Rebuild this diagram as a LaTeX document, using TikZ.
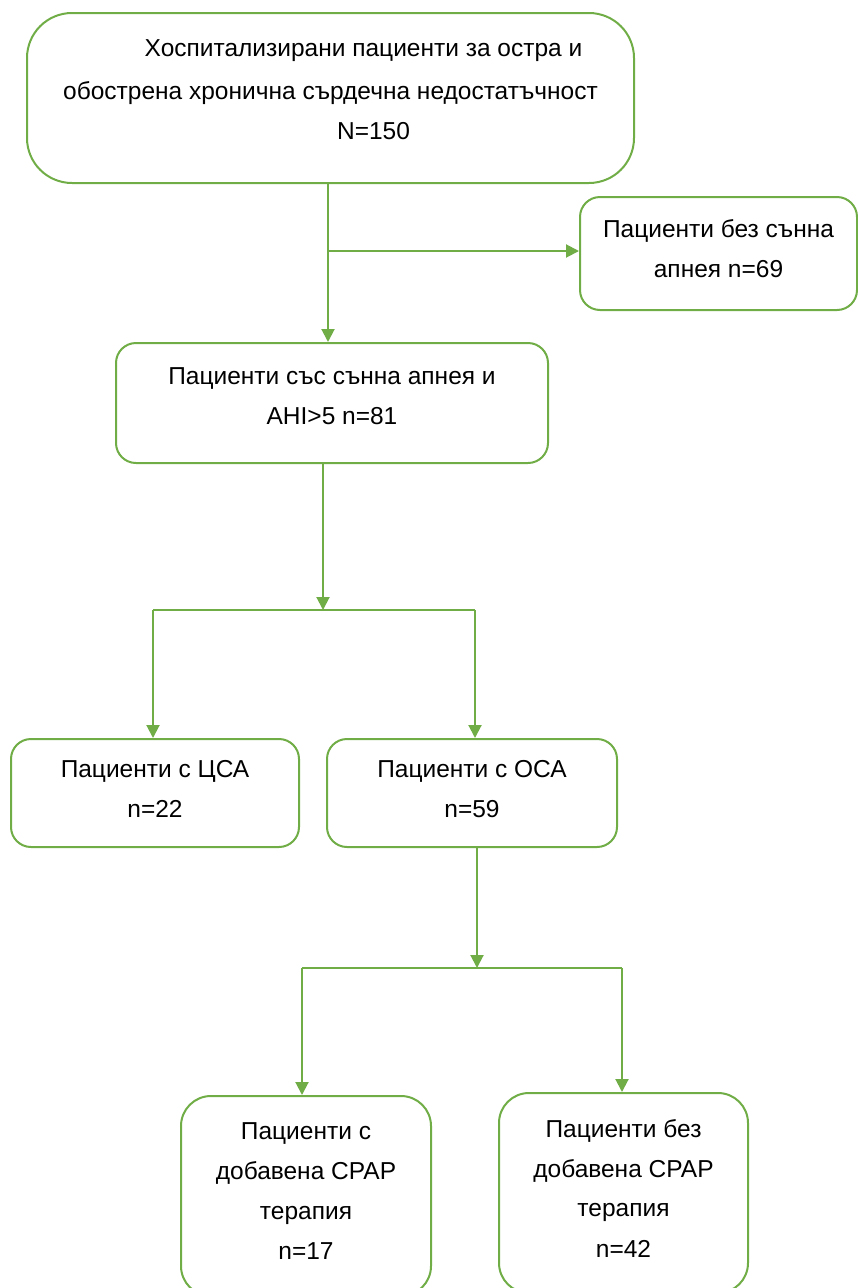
\documentclass[tikz,border=0pt]{standalone}
\usepackage{fontspec}
\setmainfont{Liberation Sans}
\usetikzlibrary{arrows.meta,calc}
\definecolor{FlowClr}{rgb}{0.439,0.678,0.278}

\tikzset{
  box/.style={draw=FlowClr,line width=2pt,rounded corners=20pt,align=center,inner sep=0pt},
  flow/.style={draw=FlowClr,line width=2pt,-{Triangle[length=13pt,width=13pt]}},
  link/.style={draw=FlowClr,line width=2pt}
}

\begin{document}
\begin{tikzpicture}[x=1pt,y=-1pt,font=\fontsize{24.5}{40}\selectfont]
\useasboundingbox (0,0) rectangle (858,1288);

\node[box,rounded corners=45pt,minimum width=607pt,minimum height=170pt,text depth=17pt] (hosp) at (330.5,98)
  {\hspace*{66pt}Хоспитализирани пациенти за остра и\\[3pt]
   обострена хронична сърдечна недостатъчност\hspace*{26pt}\\
   \hspace*{86pt}N=150};
\node[box,minimum width=277pt,minimum height=113pt,text depth=10pt] (noapnea) at (718.5,253.5)
  {Пациенти без сънна\\апнея n=69};
\node[box,minimum width=432pt,minimum height=120pt,text depth=13pt] (apnea) at (332,403)
  {Пациенти със сънна апнея и\\AHI>5 n=81};
\node[box,minimum width=288pt,minimum height=108pt,text depth=9pt] (csa) at (155,793)
  {Пациенти с ЦСА\\n=22};
\node[box,minimum width=290pt,minimum height=108pt,text depth=9pt] (osa) at (472,793)
  {Пациенти с ОСА\\n=59};
\node[box,rounded corners=30pt,minimum width=250pt,minimum height=200pt,text depth=10pt] (cpap) at (306,1196)
  {Пациенти с\\добавена CPAP\\терапия\\n=17};
\node[box,rounded corners=30pt,minimum width=249pt,minimum height=200pt,text depth=10pt] (nocpap) at (623.5,1193)
  {Пациенти без\\добавена CPAP\\терапия\\n=42};

\coordinate (s1) at (328,251);
\coordinate (s2) at (323,610);
\coordinate (s2l) at (153,610);
\coordinate (s2r) at (475,610);
\coordinate (s3) at (477,968);
\coordinate (s3l) at (302,968);
\coordinate (s3r) at (622,968);

\draw[flow] (hosp.south -| s1) -- (apnea.north -| s1);
\draw[flow] (s1) -- (s1 -| noapnea.west);

\draw[flow] (apnea.south -| s2) -- (s2);
\draw[link] (s2l) -- (s2r);
\draw[flow] (s2l) -- (csa.north -| s2l);
\draw[flow] (s2r) -- (osa.north -| s2r);

\draw[flow] (osa.south -| s3) -- (s3);
\draw[link] (s3l) -- (s3r);
\draw[flow] (s3l) -- (cpap.north -| s3l);
\draw[flow] (s3r) -- (nocpap.north -| s3r);

\end{tikzpicture}
\end{document}
